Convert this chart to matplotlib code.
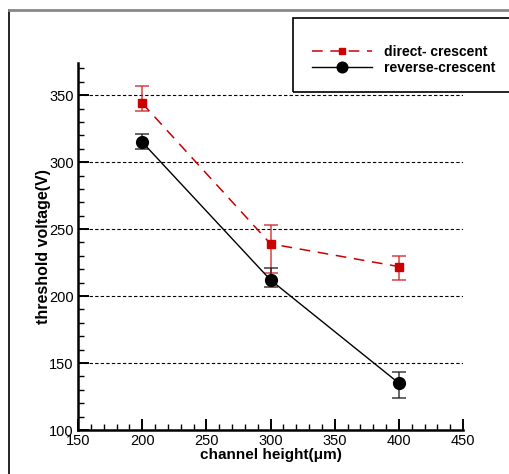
import matplotlib
matplotlib.use("Agg")
import matplotlib.pyplot as plt
from matplotlib.lines import Line2D
from matplotlib.patches import Rectangle
from matplotlib.ticker import MultipleLocator

plt.rcParams['font.family'] = ['Liberation Sans', 'DejaVu Sans']

heights = [200, 300, 400]

direct = [344, 239, 222]
direct_lo = [338, 217, 212]
direct_hi = [357, 253, 230]

reverse = [315, 212, 135]
reverse_lo = [310, 207, 124]
reverse_hi = [321, 221, 143]

fig = plt.figure(figsize=(5.09, 4.74), dpi=100)
ax = fig.add_axes([78 / 509, 1 - 430 / 474, (463 - 78) / 509, (430 - 63) / 474])

# error bars first, slightly faded like the original
ax.errorbar(heights, direct,
            yerr=[[d - l for d, l in zip(direct, direct_lo)],
                  [h - d for d, h in zip(direct, direct_hi)]],
            fmt='none', ecolor='#d42a2a', elinewidth=1.3, capsize=4.7,
            capthick=1.3, alpha=0.75, zorder=3)
ax.errorbar(heights, reverse,
            yerr=[[r - l for r, l in zip(reverse, reverse_lo)],
                  [h - r for r, h in zip(reverse, reverse_hi)]],
            fmt='none', ecolor='#222222', elinewidth=1.3, capsize=4.7,
            capthick=1.3, alpha=0.75, zorder=3)

ax.plot(heights, direct, color='#cc0000', linestyle=(0, (7, 5)), lw=1.1,
        marker='s', markersize=5.5, label='direct- crescent', zorder=4)
ax.plot(heights, reverse, color='black', linestyle='-', lw=1.0,
        marker='o', markersize=8.5, label='reverse-crescent', zorder=4)

ax.set_xlim(150, 450)
ax.set_ylim(100, 374)
ax.xaxis.set_major_locator(MultipleLocator(50))
ax.xaxis.set_minor_locator(MultipleLocator(10))
ax.yaxis.set_major_locator(MultipleLocator(50))
ax.yaxis.set_minor_locator(MultipleLocator(10))

for y in range(150, 351, 50):
    ax.axhline(y, color='black', lw=0.8, linestyle=(0, (3, 2)), zorder=1)

for s in ['top', 'right']:
    ax.spines[s].set_visible(False)
for s in ['left', 'bottom']:
    ax.spines[s].set_linewidth(1.8)

ax.tick_params(which='major', direction='in', length=8, width=1.4,
               labelsize=10.5, pad=3)
ax.tick_params(which='minor', direction='in', length=4, width=1.0)

ax.set_xlabel('channel height(μm)', fontsize=11, fontweight='bold', labelpad=0)
ax.set_ylabel('threshold voltage(V)', fontsize=11.5, fontweight='bold', labelpad=-1)

# outer frame and legend box
fig.add_artist(Line2D([9 / 509, 9 / 509], [0, 1 - 10 / 474], color='black', lw=1.2))
fig.add_artist(Line2D([9 / 509, 1], [1 - 10 / 474, 1 - 10 / 474], color='#888888', lw=2))
fig.add_artist(Rectangle((293 / 509, 1 - 92 / 474), 0.5, 74 / 474,
                         transform=fig.transFigure, fill=False,
                         edgecolor='black', lw=1.2))

fig.legend(loc='upper left', bbox_to_anchor=(312 / 509, 1 - 45 / 474),
           frameon=False, borderpad=0, borderaxespad=0, numpoints=1,
           markerscale=0.9, handlelength=4.3, handletextpad=0.86,
           labelspacing=0.15, prop={'size': 10, 'weight': 'bold'})

fig.savefig('out.png', dpi=100)
